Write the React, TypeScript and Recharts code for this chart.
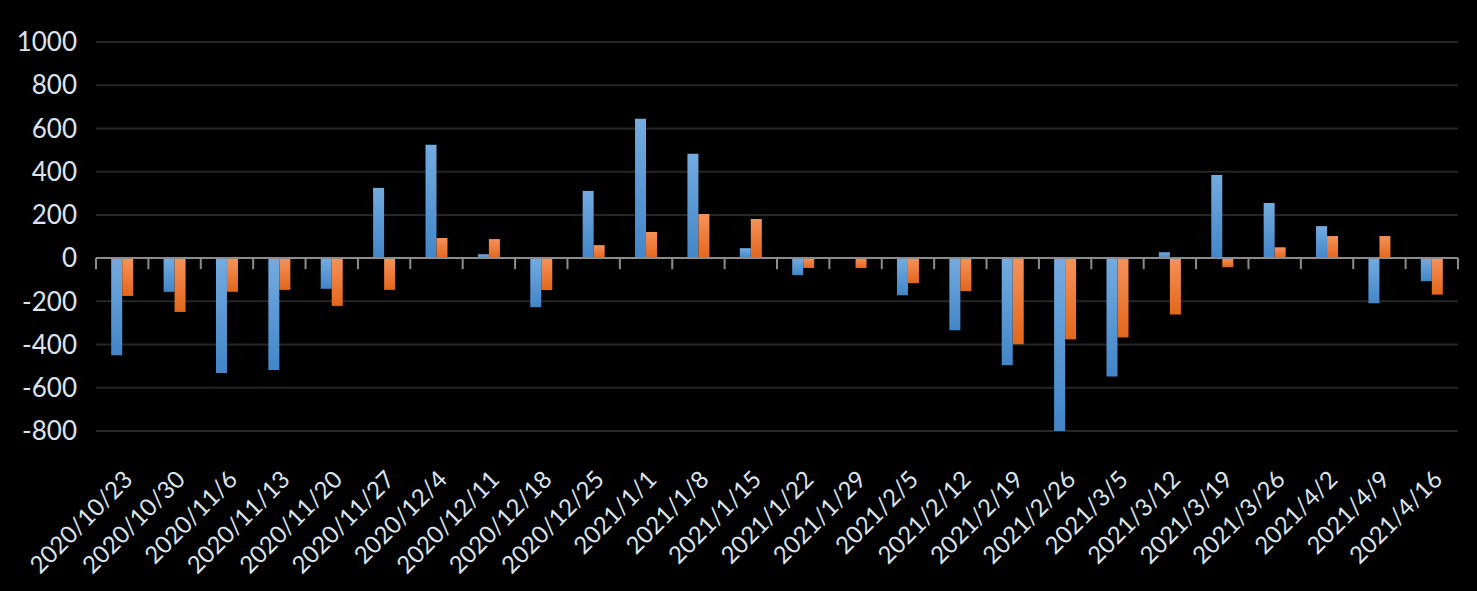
import React from 'react';
import { BarChart, Bar, XAxis, YAxis, CartesianGrid, ReferenceLine } from 'recharts';

const categories = [
  '2020/10/23', '2020/10/30', '2020/11/6', '2020/11/13', '2020/11/20', '2020/11/27',
  '2020/12/4', '2020/12/11', '2020/12/18', '2020/12/25', '2021/1/1', '2021/1/8',
  '2021/1/15', '2021/1/22', '2021/1/29', '2021/2/5', '2021/2/12', '2021/2/19',
  '2021/2/26', '2021/3/5', '2021/3/12', '2021/3/19', '2021/3/26', '2021/4/2',
  '2021/4/9', '2021/4/16',
];
const blueValues = [
  -450, -156, -532, -518, -142, 325, 524, 18, -227, 311, 645, 483, 46, -79, -3,
  -172, -334, -496, -800, -548, 27, 385, 255, 148, -209, -107,
];
const orangeValues = [
  -175, -249, -156, -147, -221, -147, 93, 88, -148, 60, 121, 204, 181, -46, -46,
  -116, -153, -399, -376, -367, -261, -42, 50, 102, 102, -169,
];
const yTicks = [-800, -600, -400, -200, 0, 200, 400, 600, 800, 1000];

const data = categories.map((c, i) => ({ idx: i, label: c, blue: blueValues[i], orange: orangeValues[i] }));
const xTicks = categories.map((_, i) => i);
const boundaries = [...categories.map((_, i) => i - 0.5), categories.length - 0.5];
const TICK_DEPTH = -51;

const FONT = 'Lato, "Open Sans", sans-serif';
const LABEL_COLOR = '#dbe3ec';

const XTick = (props: any) => {
  const { x, y, payload } = props;
  const ax = x + 12;
  const ay = y + 50;
  return (
    <text
      x={ax}
      y={ay}
      transform={`rotate(-45, ${ax}, ${ay})`}
      textAnchor="end"
      fill={LABEL_COLOR}
      fontSize={24}
      fontFamily={FONT}
    >
      {categories[payload.value]}
    </text>
  );
};

export default function App() {
  return (
    <div style={{ position: 'fixed', left: 0, top: 0, width: 1477, height: 591, background: '#000' }}>
      <BarChart
        width={1477}
        height={591}
        data={data}
        margin={{ top: 42, right: 19, left: 0, bottom: 0 }}
        barCategoryGap="29%"
        barGap={0}
      >
        <defs>
          <linearGradient id="blueGrad" x1="0" y1="0" x2="0" y2="1">
            <stop offset="0%" stopColor="#74abe0" />
            <stop offset="100%" stopColor="#4286c8" />
          </linearGradient>
          <linearGradient id="orangeGrad" x1="0" y1="0" x2="0" y2="1">
            <stop offset="0%" stopColor="#f6925a" />
            <stop offset="100%" stopColor="#e3661c" />
          </linearGradient>
        </defs>
        <CartesianGrid horizontal vertical={false} stroke="#262626" strokeWidth={2} />
        <XAxis
          dataKey="idx"
          type="number"
          domain={[-0.5, categories.length - 0.5]}
          ticks={xTicks}
          interval={0}
          height={160}
          axisLine={false}
          tickLine={false}
          tickSize={0}
          tickMargin={0}
          tick={<XTick />}
        />
        <YAxis
          domain={[-800, 1000]}
          ticks={yTicks}
          interval={0}
          width={96}
          axisLine={false}
          tickLine={false}
          tickMargin={13}
          tick={{ fill: LABEL_COLOR, fontSize: 26, fontFamily: FONT }}
        />
        <Bar dataKey="blue" fill="url(#blueGrad)" isAnimationActive={false} />
        <Bar dataKey="orange" fill="url(#orangeGrad)" isAnimationActive={false} />
        <ReferenceLine y={0} stroke="#8c8c8c" strokeWidth={2} ifOverflow="visible" />
        {boundaries.map((b) => (
          <ReferenceLine
            key={b}
            segment={[{ x: b, y: 0 }, { x: b, y: TICK_DEPTH }]}
            ifOverflow="visible"
            stroke="#8c8c8c"
            strokeWidth={2}
          />
        ))}
      </BarChart>
    </div>
  );
}
